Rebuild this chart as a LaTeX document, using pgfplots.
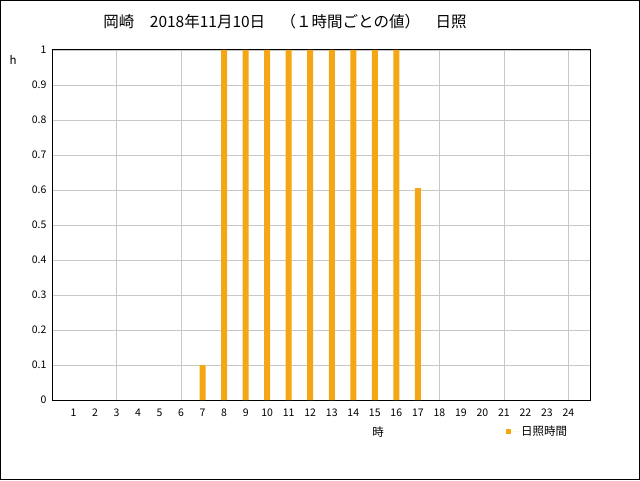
\documentclass[border=0pt]{standalone}
\usepackage{fontspec}
\setmainfont{Noto Sans CJK JP}
\usepackage{pgfplots}
\pgfplotsset{compat=1.18}
\definecolor{barc}{RGB}{245,166,20}
\definecolor{gridc}{RGB}{200,200,200}
\begin{document}
\begin{tikzpicture}[x=1pt,y=1pt]
\useasboundingbox (0,0) rectangle (640,480);
\draw[line width=1pt] (0.5,0.5) rectangle (639.5,479.5);
\begin{axis}[
  at={(52pt,80pt)}, anchor=south west,
  scale only axis, width=538pt, height=350pt,
  xmin=0, xmax=25, ymin=0, ymax=1,
  xtick={1,...,24},
  ytick={0,0.1,...,1.01},
  major tick length=0pt,
  ymajorgrids, grid style={gridc, line width=0.8pt},
  extra x ticks={3,6,...,24},
  extra x tick labels={},
  extra x tick style={grid=major, major tick length=0pt},
  axis line style={line width=1pt},
  tick label style={font=\fontsize{10.5}{12}\selectfont},
  /pgf/number format/assume math mode=true,
  /pgf/number format/fixed,
  yticklabel style={xshift=-2pt},
  xticklabel style={yshift=-5pt},
  ybar, bar width=6pt,
  legend style={at={(0.8439,-0.0886)}, anchor=west, draw=none, fill=none, inner sep=0pt, font=\fontsize{11.5}{13}\selectfont},
  legend image code/.code={\fill[barc] (0pt,-2.5pt) rectangle (5pt,2.5pt); \path (0pt,0pt) -- (13pt,0pt);},
]
\addplot[fill=barc, draw=none] coordinates {
(7,0.1) (8,1) (9,1) (10,1) (11,1) (12,1) (13,1) (14,1) (15,1) (16,1) (17,0.605)
};
\addlegendentry{日照時間}
\end{axis}
\node[font=\fontsize{15.5}{17}\selectfont] at (285,458) {岡崎　2018年11月10日　（１時間ごとの値）　日照};
\node[font=\fontsize{11.5}{13}\selectfont] at (13,420) {h};
\node[font=\fontsize{11.5}{13}\selectfont] at (378,48) {時};
\end{tikzpicture}
\end{document}
